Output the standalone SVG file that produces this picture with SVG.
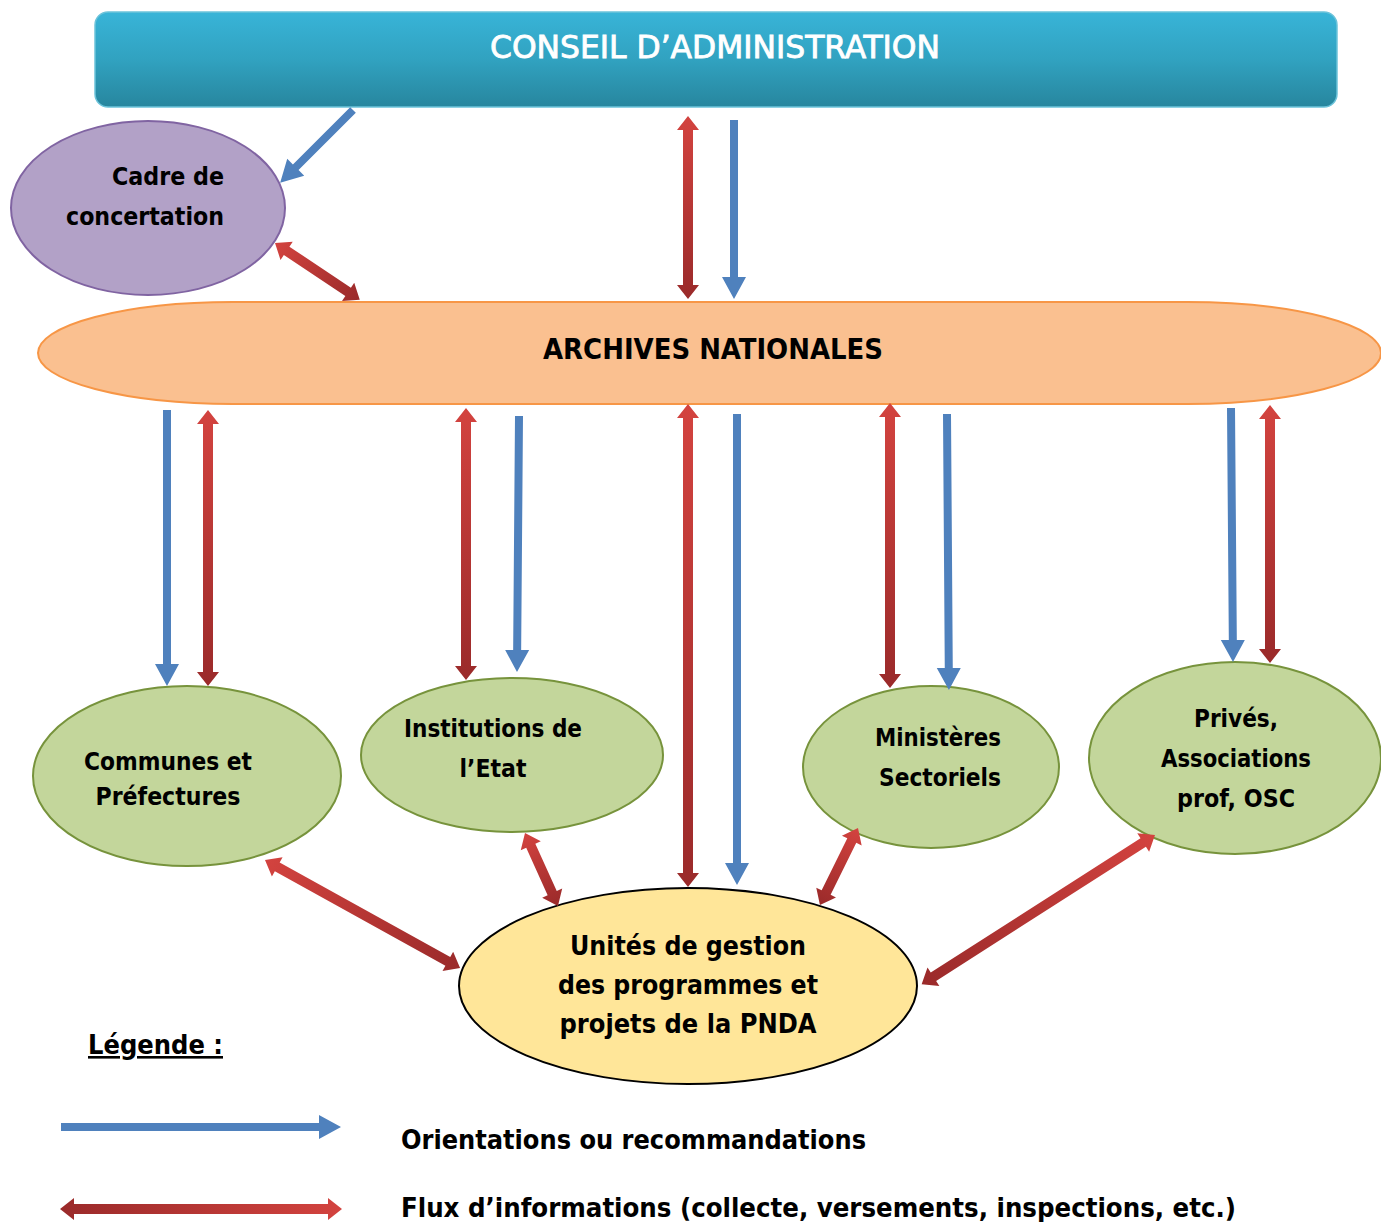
<svg xmlns="http://www.w3.org/2000/svg" width="1381" height="1222" viewBox="0 0 1381 1222">
<defs>
<linearGradient id="topg" x1="0" y1="0" x2="0" y2="1"><stop offset="0" stop-color="#38b4d8"/><stop offset="0.5" stop-color="#31a2c0"/><stop offset="1" stop-color="#27869e"/></linearGradient>
<linearGradient id="rg" x1="0" y1="0" x2="1" y2="0"><stop offset="0" stop-color="#d3433f"/><stop offset="1" stop-color="#9a2a2a"/></linearGradient>
</defs>
<style>
text{font-family:"DejaVu Sans Condensed","DejaVu Sans",sans-serif;font-stretch:condensed;font-weight:bold;fill:#000}
.green{fill:#c3d69b;stroke:#77933c;stroke-width:2}
.red{fill:url(#rg)}
.blue{fill:#4f81bd}
.lbl{font-size:24px}
</style>
<g id="conseil">
<rect x="95" y="12" width="1242" height="95" rx="13" fill="url(#topg)" stroke="#6cc3da" stroke-width="1.5"/>
<text x="715" y="58" font-size="32" text-anchor="middle" style="fill:#fff;font-weight:normal;stroke:#fff;stroke-width:0.8" textLength="450" lengthAdjust="spacingAndGlyphs">CONSEIL D’ADMINISTRATION</text>
</g>
<g id="cadre">
<ellipse cx="148" cy="208" rx="137" ry="87" fill="#b2a1c7" stroke="#8064a2" stroke-width="2"/>
<text class="lbl" x="224" y="185" text-anchor="end" textLength="112" lengthAdjust="spacingAndGlyphs">Cadre de</text>
<text class="lbl" x="224" y="225" text-anchor="end" textLength="158" lengthAdjust="spacingAndGlyphs">concertation</text>
</g>
<g id="archives">
<path d="M233,302 H1187 A194,51 0 0 1 1187,404 H233 A195,51 0 0 1 233,302 Z" fill="#fac090" stroke="#f79646" stroke-width="2"/>
<text x="713" y="359" font-size="28" text-anchor="middle" textLength="340" lengthAdjust="spacingAndGlyphs">ARCHIVES NATIONALES</text>
</g>
<g id="communes">
<ellipse class="green" cx="187" cy="776" rx="154" ry="90"/>
<text class="lbl" x="168" y="770" text-anchor="middle" textLength="168" lengthAdjust="spacingAndGlyphs">Communes et</text>
<text class="lbl" x="168" y="805" text-anchor="middle" textLength="145" lengthAdjust="spacingAndGlyphs">Préfectures</text>
</g>
<g id="institutions">
<ellipse class="green" cx="512" cy="755" rx="151" ry="77"/>
<text class="lbl" x="493" y="737" text-anchor="middle" textLength="178" lengthAdjust="spacingAndGlyphs">Institutions de</text>
<text class="lbl" x="493" y="777" text-anchor="middle" textLength="67" lengthAdjust="spacingAndGlyphs">l’Etat</text>
</g>
<g id="ministeres">
<ellipse class="green" cx="931" cy="767" rx="128" ry="81"/>
<text class="lbl" x="938" y="746" text-anchor="middle" textLength="126" lengthAdjust="spacingAndGlyphs">Ministères</text>
<text class="lbl" x="940" y="786" text-anchor="middle" textLength="122" lengthAdjust="spacingAndGlyphs">Sectoriels</text>
</g>
<g id="prives">
<ellipse class="green" cx="1235" cy="758" rx="146" ry="96"/>
<text class="lbl" x="1236" y="727" text-anchor="middle" textLength="84" lengthAdjust="spacingAndGlyphs">Privés,</text>
<text class="lbl" x="1236" y="767" text-anchor="middle" textLength="150" lengthAdjust="spacingAndGlyphs">Associations</text>
<text class="lbl" x="1236" y="807" text-anchor="middle" textLength="118" lengthAdjust="spacingAndGlyphs">prof, OSC</text>
</g>
<g id="unites">
<ellipse cx="688" cy="986" rx="229" ry="98" fill="#ffe699" stroke="#000" stroke-width="2"/>
<text x="688" y="955" font-size="27" text-anchor="middle" textLength="236" lengthAdjust="spacingAndGlyphs">Unités de gestion</text>
<text x="688" y="994" font-size="27" text-anchor="middle" textLength="260" lengthAdjust="spacingAndGlyphs">des programmes et</text>
<text x="688" y="1033" font-size="27" text-anchor="middle" textLength="257" lengthAdjust="spacingAndGlyphs">projets de la PNDA</text>
</g>
<g id="connectors">
<path class="blue" transform="translate(353,110) rotate(135)" d="M0,-4 H81 V-12 L103,0 L81,12 V4 H0 Z"/>
<path class="red" transform="translate(275,243) rotate(33.8)" d="M0,0 L14,-11 L14,-5 L88,-5 L88,-11 L102,0 L88,11 L88,5 L14,5 L14,11 Z"/>
<path class="red" transform="translate(688,116) rotate(90)" d="M0,0 L14,-11 L14,-5 L169,-5 L169,-11 L183,0 L169,11 L169,5 L14,5 L14,11 Z"/>
<path class="blue" transform="translate(734,120) rotate(90)" d="M0,-4 H157 V-12 L179,0 L157,12 V4 H0 Z"/>
<path class="blue" transform="translate(167,410) rotate(90)" d="M0,-4 H254 V-12 L276,0 L254,12 V4 H0 Z"/>
<path class="red" transform="translate(208,410) rotate(90)" d="M0,0 L14,-11 L14,-5 L262,-5 L262,-11 L276,0 L262,11 L262,5 L14,5 L14,11 Z"/>
<path class="red" transform="translate(466,408) rotate(90)" d="M0,0 L14,-11 L14,-5 L258,-5 L258,-11 L272,0 L258,11 L258,5 L14,5 L14,11 Z"/>
<path class="blue" transform="translate(519,416) rotate(90.45)" d="M0,-4 H234 V-12 L256,0 L234,12 V4 H0 Z"/>
<path class="red" transform="translate(688,404) rotate(90)" d="M0,0 L14,-11 L14,-5 L469,-5 L469,-11 L483,0 L469,11 L469,5 L14,5 L14,11 Z"/>
<path class="blue" transform="translate(737,414) rotate(90)" d="M0,-4 H449 V-12 L471,0 L449,12 V4 H0 Z"/>
<path class="red" transform="translate(890,403) rotate(90)" d="M0,0 L14,-11 L14,-5 L271,-5 L271,-11 L285,0 L271,11 L271,5 L14,5 L14,11 Z"/>
<path class="blue" transform="translate(947,414) rotate(89.6)" d="M0,-4 H254 V-12 L276,0 L254,12 V4 H0 Z"/>
<path class="blue" transform="translate(1231,408) rotate(89.55)" d="M0,-4 H232 V-12 L254,0 L232,12 V4 H0 Z"/>
<path class="red" transform="translate(1270,405) rotate(90)" d="M0,0 L14,-11 L14,-5 L244,-5 L244,-11 L258,0 L244,11 L244,5 L14,5 L14,11 Z"/>
<path class="red" transform="translate(265,860) rotate(28.98)" d="M0,0 L14,-11 L14,-5 L209,-5 L209,-11 L223,0 L209,11 L209,5 L14,5 L14,11 Z"/>
<path class="red" transform="translate(525,833) rotate(65.67)" d="M0,0 L14,-11 L14,-5 L66,-5 L66,-11 L80,0 L66,11 L66,5 L14,5 L14,11 Z"/>
<path class="red" transform="translate(858,828) rotate(116.27)" d="M0,0 L14,-11 L14,-5 L72,-5 L72,-11 L86,0 L72,11 L72,5 L14,5 L14,11 Z"/>
<path class="red" transform="translate(1155,835) rotate(147.4)" d="M0,0 L14,-11 L14,-5 L263,-5 L263,-11 L277,0 L263,11 L263,5 L14,5 L14,11 Z"/>
</g>
<g id="legende">
<text x="88" y="1054" font-size="26" text-decoration="underline" textLength="135" lengthAdjust="spacingAndGlyphs">Légende :</text>
<path class="blue" transform="translate(61,1127)" d="M0,-4 H258 V-12 L280,0 L258,12 V4 H0 Z"/>
<path class="red" transform="translate(342,1209) rotate(180)" d="M0,0 L14,-11 L14,-5 L268,-5 L268,-11 L282,0 L268,11 L268,5 L14,5 L14,11 Z"/>
<text x="401" y="1149" font-size="26" textLength="465" lengthAdjust="spacingAndGlyphs">Orientations ou recommandations</text>
<text x="401" y="1217" font-size="26" textLength="835" lengthAdjust="spacingAndGlyphs">Flux d’informations (collecte, versements, inspections, etc.)</text>
</g>
</svg>
